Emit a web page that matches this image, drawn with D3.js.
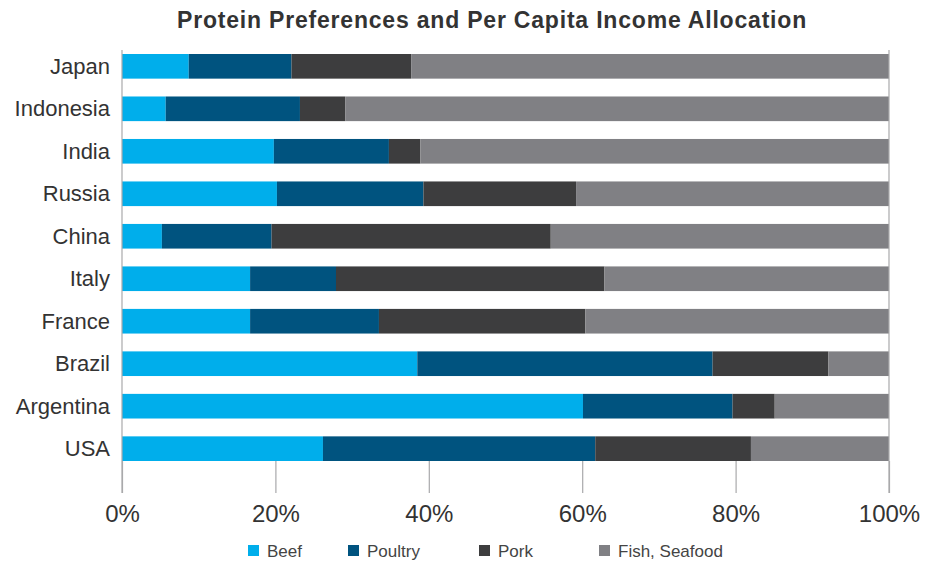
<!DOCTYPE html>
<html>
<head>
<meta charset="utf-8">
<script src="https://cdn.jsdelivr.net/npm/d3@7"></script>
<style>
    body { margin: 0; background: #fff; }
    svg { display: block; }
</style>
</head>
<body>
<svg id="chart" width="927" height="565"></svg>
<script>
"use strict";

// shares of protein spending, percent
const countries = ["Japan", "Indonesia", "India", "Russia", "China", "Italy", "France", "Brazil", "Argentina", "USA"];
const beef    = [8.7, 5.7, 19.8, 20.2, 5.2, 16.7, 16.7, 38.5, 60.1, 26.2];
const poultry = [13.4, 17.5, 15.0, 19.1, 14.3, 11.2, 16.8, 38.5, 19.5, 35.5];
const pork    = [15.6, 5.9, 4.1, 19.9, 36.4, 35.0, 26.9, 15.1, 5.5, 20.3];
const fish    = [62.3, 70.9, 61.1, 40.8, 44.1, 37.1, 39.6, 7.9, 14.9, 18.0];
const seriesNames = ["Beef", "Poultry", "Pork", "Fish, Seafood"];
const tickValues = [0, 20, 40, 60, 80, 100];

const colors = ["#00aeeb", "#00537f", "#3d3d3e", "#808084"];

const svg = d3.select("#chart"),
    margin = { top: 54, right: 38, bottom: 104, left: 122 },
    w = 927 - margin.left - margin.right,
    h = 565 - margin.top - margin.bottom;

const rows = countries.map((c, i) => ({
    country: c, Beef: beef[i], Poultry: poultry[i], Pork: pork[i], "Fish, Seafood": fish[i]
}));

const stack = d3.stack().keys(seriesNames);
const layers = stack(rows);

const x = d3.scaleLinear().domain([0, 100]).range([0, w]);
const y = d3.scaleBand().domain(countries).range([0, 407]).paddingInner(0.42).paddingOuter(0);

const g = svg.append("g").attr("transform", `translate(${margin.left},${margin.top})`);

// title
svg.append("text")
    .attr("x", 492)
    .attr("y", 28)
    .attr("text-anchor", "middle")
    .attr("font-family", "Liberation Sans, Arial, sans-serif")
    .attr("font-weight", "bold")
    .attr("font-size", 23)
    .attr("letter-spacing", 0.8)
    .attr("fill", "#333")
    .text("Protein Preferences and Per Capita Income Allocation");

// bars
g.selectAll("g.layer")
    .data(layers)
    .join("g")
    .attr("class", "layer")
    .attr("fill", (d, i) => colors[i])
    .selectAll("rect")
    .data(d => d)
    .join("rect")
    .attr("x", d => x(d[0]))
    .attr("y", d => y(d.data.country))
    .attr("width", d => x(d[1]) - x(d[0]))
    .attr("height", y.bandwidth());

// frame lines
const lineCol = "#a9a9ab";
const bottomY = y(countries[countries.length - 1]) + y.bandwidth();
g.append("line")
    .attr("x1", 0).attr("x2", 0)
    .attr("y1", -4).attr("y2", bottomY + 32)
    .attr("stroke", lineCol).attr("stroke-width", 1.2);
g.append("line")
    .attr("x1", x(100)).attr("x2", x(100))
    .attr("y1", -4).attr("y2", bottomY + 32)
    .attr("stroke", lineCol).attr("stroke-width", 1.2);

// x axis
const xAxis = d3.axisBottom(x)
    .tickValues(tickValues)
    .tickFormat(d => d + "%")
    .tickSize(32)
    .tickPadding(12);

const ax = g.append("g")
    .attr("transform", `translate(0,${bottomY})`)
    .call(xAxis);
ax.select(".domain").remove();
ax.selectAll(".tick line").attr("stroke", lineCol).attr("stroke-width", 1.2);
ax.selectAll(".tick text")
    .attr("font-family", "Liberation Sans, Arial, sans-serif")
    .attr("font-size", 24)
    .attr("fill", "#333");

// y labels
g.append("g")
    .selectAll("text")
    .data(countries)
    .join("text")
    .attr("x", -12)
    .attr("y", d => y(d) + y.bandwidth() / 2 + 7.5)
    .attr("text-anchor", "end")
    .attr("font-family", "Liberation Sans, Arial, sans-serif")
    .attr("font-size", 22)
    .attr("fill", "#333")
    .text(d => d);

// legend
const legendX = [248, 348, 479, 599];
const legend = svg.append("g")
    .selectAll("g")
    .data(seriesNames)
    .join("g")
    .attr("transform", (d, i) => `translate(${legendX[i]},545)`);
legend.append("rect")
    .attr("width", 11).attr("height", 11)
    .attr("fill", (d, i) => colors[i]);
legend.append("text")
    .attr("x", 19)
    .attr("y", 12)
    .attr("font-family", "Liberation Sans, Arial, sans-serif")
    .attr("font-size", 17)
    .attr("fill", "#444")
    .text(d => d);
</script>
</body>
</html>
